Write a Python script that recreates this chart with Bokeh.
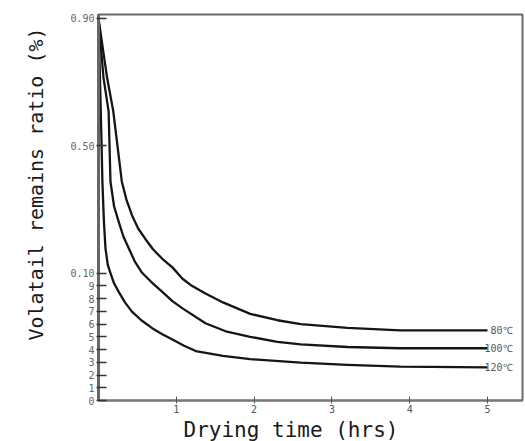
from bokeh.plotting import figure
from bokeh.models import FixedTicker, Range1d, Title
from bokeh.core.properties import value
from bokeh.embed import file_html
from bokeh.resources import INLINE

# Drying time (hrs) and volatile remains ratio for each drying temperature
t80 = [0, 0.11, 0.19, 0.30, 0.36, 0.43, 0.51, 0.60, 0.70, 0.82, 0.95, 1.08, 1.20, 1.375,
       1.60, 1.95, 2.30, 2.60, 3.20, 3.88, 5.0]
v80 = [0.90, 0.714, 0.608, 0.387, 0.33, 0.282, 0.24, 0.208, 0.175, 0.145, 0.118, 0.0956, 0.090, 0.084,
       0.077, 0.068, 0.063, 0.060, 0.057, 0.055, 0.055]

t100 = [0, 0.064, 0.13, 0.154, 0.20, 0.26, 0.32, 0.39, 0.47, 0.56, 0.68, 0.82, 0.95, 1.08,
        1.375, 1.65, 1.95, 2.30, 2.60, 3.20, 3.88, 5.0]
v100 = [0.90, 0.714, 0.608, 0.387, 0.31, 0.261, 0.215, 0.177, 0.135, 0.101, 0.093, 0.0853, 0.078, 0.0723,
        0.0606, 0.054, 0.050, 0.046, 0.044, 0.042, 0.041, 0.041]

t120 = [0, 0.02, 0.04, 0.05, 0.07, 0.09, 0.12, 0.154, 0.20, 0.26, 0.34, 0.43, 0.55, 0.69,
        0.82, 0.95, 1.10, 1.25, 1.60, 1.95, 2.60, 3.20, 3.88, 5.0]
v120 = [0.90, 0.70, 0.50, 0.387, 0.26, 0.177, 0.125, 0.10, 0.092, 0.0853, 0.077, 0.0698, 0.063, 0.0568,
        0.052, 0.0478, 0.043, 0.0388, 0.035, 0.0325, 0.0297, 0.028, 0.0266, 0.026]

series_labels = ["80\u2103", "100\u2103", "120\u2103"]

x_ticks = [1, 2, 3, 4, 5]
# y axis: 0..0.10 spread linearly (labelled 0..9 in hundredths), then 0.10-0.50 and 0.50-0.90
y_tick_values = [0, 0.01, 0.02, 0.03, 0.04, 0.05, 0.06, 0.07, 0.08, 0.09, 0.10, 0.50, 0.90]
y_tick_labels = ["0", "1", "2", "3", "4", "5", "6", "7", "8", "9", "0.10", "0.50", "0.90"]


def to_axis(v):
    """Piecewise axis: each of 0-0.1, 0.1-0.5, 0.5-0.9 gets 10 units."""
    if v <= 0.1:
        return v * 100.0
    if v <= 0.5:
        return 10.0 + (v - 0.1) * 25.0
    return 20.0 + (v - 0.5) * 25.0


MONO = "DejaVu Sans Mono"

p = figure(width=525, height=441, output_backend="svg", toolbar_location=None,
           x_range=Range1d(0, 5.45), y_range=Range1d(0, 30.3))
p.min_border_left = 98
p.min_border_right = 3
p.min_border_top = 14
p.min_border_bottom = 41
p.background_fill_color = "white"
p.border_fill_color = "white"
p.grid.visible = False
p.outline_line_color = "#6a6a6a"
p.outline_line_width = 2

for t, v in ((t80, v80), (t100, v100), (t120, v120)):
    p.line(t, [to_axis(x) for x in v], line_color="#151515", line_width=2.3,
           line_join="round")

# temperature labels at the right end of each curve
ends_x = [t80[-1], t100[-1], t120[-1]]
ends_y = [to_axis(v80[-1]), to_axis(v100[-1]), to_axis(v120[-1])]
p.text(x=ends_x, y=ends_y, text=series_labels, x_offset=[3, -3, -3],
       text_font=value(MONO), text_font_size="10px", text_color="#555555",
       text_baseline="middle", text_align="left")

# x axis
xa = p.xaxis[0]
xa.ticker = FixedTicker(ticks=x_ticks)
xa.major_label_overrides = {k: str(k) for k in x_ticks}
xa.minor_tick_line_color = None
xa.major_tick_in = 4
xa.major_tick_out = 3
xa.major_tick_line_color = "#555555"
xa.axis_line_color = "#777777"
xa.axis_line_width = 2
xa.major_label_text_font = MONO
xa.major_label_text_font_size = "10px"
xa.major_label_text_color = "#555555"
xa.major_label_standoff = 1

# y axis
ya = p.yaxis[0]
y_pos = [round(to_axis(v), 6) for v in y_tick_values]
ya.ticker = FixedTicker(ticks=y_pos)
ya.major_label_overrides = {u: lab for u, lab in zip(y_pos, y_tick_labels)}
ya.minor_tick_line_color = None
ya.major_tick_in = 8
ya.major_tick_out = 2
ya.major_tick_line_color = "#333333"
ya.major_tick_line_width = 1.5
ya.axis_line_color = "#666666"
ya.axis_line_width = 3
ya.major_label_text_font = MONO
ya.major_label_text_font_size = "10px"
ya.major_label_text_color = "#666666"
ya.major_label_standoff = 2

# axis titles
p.add_layout(Title(text="Drying time (hrs)", align="left", offset=85,
                   text_font=MONO, text_font_size="21px", text_color="#1a1a1a",
                   text_font_style="normal", standoff=0), "below")
p.add_layout(Title(text="Volatail remains ratio (%)", align="left", offset=60,
                   text_font=MONO, text_font_size="20px", text_color="#1a1a1a",
                   text_font_style="normal", standoff=40), "left")

open("out.html", "w").write(file_html(p, INLINE))
